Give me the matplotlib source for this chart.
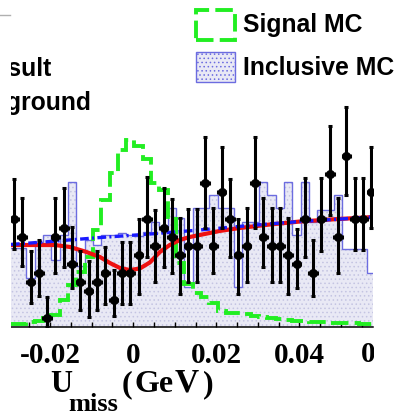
import numpy as np
import matplotlib
matplotlib.use('Agg')
import matplotlib.pyplot as plt
from matplotlib.patches import Rectangle
from matplotlib.lines import Line2D

W, H = 399, 416

# U_miss binning (GeV), 2 MeV bins
nbins = 44
edges = -0.0297 + 0.002 * np.arange(nbins + 1)
centers = 0.5 * (edges[:-1] + edges[1:])

# data: events per bin and asymmetric errors
data_y = [12, 10, 5, 6, 1, 10, 11, 7, 5, 4, 5, 6, 3, 6, 6, 8, 12, 9, 11, 10, 8, 9,
          9, 16, 9, 15, 12, 8, 9, 16, 10, 9, 9, 8, 7, 12, 6, 12, 17, 10, 19, 12, 12, 15]
err_lo = [3.3, 3.2, 2.3, 2.5, 1.0, 4.0, 4.3, 2.7, 3.1, 2.9, 3.1, 3.4, 1.8, 3.4, 3.4, 4.3,
          4.2, 4.0, 4.3, 4.0, 4.3, 4.0, 4.0, 5.0, 3.0, 4.0, 4.2, 4.3, 4.0, 5.0, 3.3, 4.0,
          4.0, 4.3, 2.7, 4.2, 2.5, 3.5, 4.6, 4.0, 4.3, 3.4, 3.4, 4.0]
err_hi = [4.5, 4.3, 3.4, 3.7, 2.3, 4.3, 4.4, 4.1, 3.4, 3.3, 3.4, 2.9, 3.3, 3.5, 3.5, 4.0,
          4.7, 4.0, 4.4, 4.2, 4.1, 4.1, 4.1, 5.1, 4.2, 5.0, 4.5, 4.0, 4.2, 5.1, 4.3, 4.2,
          4.2, 4.1, 3.9, 4.6, 3.7, 4.6, 5.3, 4.3, 5.5, 4.6, 4.6, 5.0]

# inclusive MC
incl_mc = [8.8, 8.8, 5.4, 9.5, 10.2, 7.4, 10.2, 16.1, 6.8, 9.7, 9.1, 10.2, 10.2, 10.4,
           10.2, 10.1, 10.6, 11.7, 11.1, 13.2, 12.1, 4.5, 13.2, 13.2, 14.7, 13.2, 13.2,
           4.5, 11.7, 11.7, 16.1, 14.7, 13.2, 16.1, 10.2, 16.1, 11.7, 13.0, 13.0, 14.7,
           8.7, 8.7, 8.7, 6.0]

# signal MC shape
signal_mc = [0.28, 0.33, 0.6, 0.67, 1.0, 1.33, 3.0, 4.67, 6.1, 7.8, 10.8, 14.1, 17.1,
             19.7, 20.8, 20.1, 18.7, 16.0, 15.2, 12.2, 7.1, 4.8, 3.8, 3.3, 2.7, 1.8, 1.6,
             1.55, 1.45, 1.2, 1.1, 1.0, 0.9, 0.8, 0.7, 0.67, 0.6, 0.55, 0.5, 0.48, 0.45,
             0.4, 0.38, 0.33]

# fit result and background curves
fit_x = [-0.0294, -0.0224, -0.0188, -0.0152, -0.0116, -0.0080, -0.0056, -0.0032, -0.0008,
         0.0016, 0.0040, 0.0064, 0.0088, 0.0112, 0.0136, 0.0160, 0.0208, 0.0256, 0.0329,
         0.0401, 0.0473, 0.0577]
fit_y = [9.11, 9.11, 9.11, 8.89, 8.39, 7.78, 7.11, 6.56, 6.33, 6.5, 7.17, 8.33, 9.11,
         9.67, 10.0, 10.22, 10.67, 11.0, 11.39, 11.72, 11.94, 12.22]
bkg_x = [-0.0294, -0.0200, -0.0080, 0.0040, 0.0160, 0.0280, 0.0401, 0.0577]
bkg_y = [9.17, 9.5, 9.94, 10.33, 10.78, 11.28, 11.72, 12.22]

xticks = [-0.02, 0, 0.02, 0.04]
xticklabels = ['-0.02', '0', '0.02', '0.04']

plt.rcParams['hatch.linewidth'] = 0.6

fig = plt.figure(figsize=(W / 100, H / 100), dpi=100)
ax = fig.add_axes([11 / W, (H - 327) / H, 362 / W, 327 / H])
ax.set_xlim(-0.0294, 0.0577)
ax.set_ylim(0, 327 / 9)

ax.stairs(incl_mc, edges, baseline=0, fill=True, facecolor='#e9e9f5',
          edgecolor='#c4c4e2', hatch='....', linewidth=0, zorder=1)
ax.stairs(incl_mc, edges, baseline=None, color='#6c6ce0', linewidth=1.0, zorder=1.5)
ax.stairs(signal_mc, edges, baseline=None, color='#22ee22', linewidth=2.8,
          linestyle=(0, (4.5, 1.6)), zorder=2)
ax.plot(fit_x, fit_y, color='#ee1111', linewidth=3.0, zorder=3)
ax.plot(bkg_x, bkg_y, color='#1a1aff', linewidth=2.4,
        linestyle=(0, (2.6, 1.0, 0.6, 1.0)), zorder=3.5)
ax.errorbar(centers, data_y, yerr=[err_lo, err_hi], xerr=0.0009, fmt='o', ms=5.5,
            color='black', elinewidth=2.2, capsize=1.6, capthick=2.2, zorder=4)

for s in ['top', 'left', 'right']:
    ax.spines[s].set_visible(False)
ax.spines['bottom'].set_linewidth(1.1)
ax.set_yticks([])
ax.set_xticks(xticks)
ax.set_xticklabels(xticklabels, fontfamily='Liberation Serif', fontweight='bold',
                   fontsize=21)
ax.set_xticks(np.arange(-0.025, 0.06, 0.005), minor=True)
ax.tick_params(axis='x', which='both', direction='in', length=3.8, width=1.0, pad=11)


def px(x, y):
    return x / W, 1 - y / H


sans = dict(fontfamily='Liberation Sans', fontweight='bold', fontsize=17.8,
            va='baseline', ha='left', zorder=6)
fig.text(*px(-52.7, 76), 'Fit result', **sans)
fig.text(*px(-52.7, 110), 'Background', **sans)

serif = dict(fontfamily='Liberation Serif', fontweight='bold', va='baseline',
             ha='left', zorder=6)
# last tick label, running into the right margin
fig.text(*px(361, 362), '0.06', fontsize=21, **serif)

# white margins
fig.add_artist(Rectangle((0, 0), 11 / W, 1, transform=fig.transFigure,
                         facecolor='white', edgecolor='none', zorder=8))
fig.add_artist(Rectangle((374 / W, 0), 1, 1, transform=fig.transFigure,
                         facecolor='white', edgecolor='none', zorder=8))
fig.add_artist(Line2D([0, 10 / W], [1 - 15 / H] * 2, transform=fig.transFigure,
                      color='#b0b0b0', linewidth=1.0, zorder=9))

# legend
fig.add_artist(Rectangle(px(196, 40), 39 / W, 30 / H, transform=fig.transFigure,
                         facecolor='none', edgecolor='#22ee22', linewidth=2.8,
                         linestyle=(0, (4.5, 1.6)), zorder=9))
fig.add_artist(Rectangle(px(196, 82), 39 / W, 30 / H, transform=fig.transFigure,
                         facecolor='#e9e9f5', edgecolor='#6c6ce0', hatch='....',
                         linewidth=1.0, zorder=9))
fig.text(*px(243, 32), 'Signal MC', **dict(sans, zorder=9))
fig.text(*px(243, 75), 'Inclusive MC', **dict(sans, zorder=9))

# axis title, U_miss (GeV)
serif['zorder'] = 9
fig.text(*px(50, 392), 'U', fontsize=22, **serif)
fig.text(*px(68, 411), 'miss', fontsize=19, **serif)
fig.text(*px(122, 392), '(', fontsize=23, **serif)
fig.text(*px(134, 392), 'Ge', fontsize=23, **serif)
fig.text(*px(175, 392), 'V', fontsize=24, **serif)
fig.text(*px(203, 392), ')', fontsize=23, **serif)

fig.savefig('out.png', dpi=100)
